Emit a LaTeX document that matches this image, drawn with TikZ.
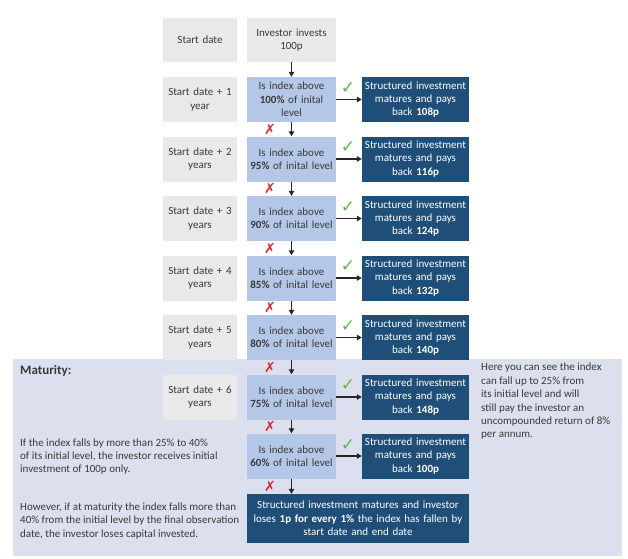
\documentclass[tikz,border=0pt]{standalone}
\usepackage{fontspec}
\setmainfont{Carlito}
\newfontfamily\symfont{DejaVu Sans}
\usetikzlibrary{arrows.meta}
\definecolor{graybox}{HTML}{E9E9E9}
\definecolor{lightbox}{HTML}{B4C7E7}
\definecolor{darkbox}{HTML}{1F4E79}
\definecolor{matbg}{HTML}{DCE0EE}
\definecolor{txtgray}{HTML}{3A3A3A}
\definecolor{okgreen}{HTML}{5DB84E}
\definecolor{nored}{HTML}{E0262F}
\tikzset{
  basefont/.style={font=\fontsize{11}{13.4}\selectfont},
  datebox/.style={basefont, fill=graybox, text=txtgray, minimum width=74pt, minimum height=45pt, text width=70pt, align=center, inner sep=0pt},
  qbox/.style={basefont, fill=lightbox, text=txtgray, minimum width=89pt, minimum height=45pt, text width=86pt, align=center, inner sep=0pt},
  resbox/.style={basefont, fill=darkbox, text=white, minimum width=107pt, minimum height=45pt, text width=105pt, align=center, inner sep=0pt},
  flow/.style={line width=1.1pt, draw=black!85, -{Triangle[length=5pt,width=5.5pt]}},
  okmark/.style={text=okgreen, font=\symfont\fontsize{17}{17}\selectfont, inner sep=0pt},
  nomark/.style={text=nored, font=\symfont\fontsize{14}{14}\selectfont, inner sep=0pt},
  note/.style={basefont, text=txtgray, align=left, anchor=west, inner sep=0pt}
}
\begin{document}
\begin{tikzpicture}[x=1pt,y=-1pt]
\useasboundingbox (0,0) rectangle (628,558);
\fill[white] (0,0) rectangle (628,558);
% maturity background
\fill[matbg] (13,359) rectangle (622,556);
\node[anchor=west, inner sep=0pt, text=txtgray, font=\fontsize{13}{15}\selectfont\bfseries] (mat) at (20,371) {Maturity:};

% start row
\node[datebox, minimum height=44pt] (d0) at (200,40) {Start date};
\node[qbox, minimum height=44pt, fill=graybox] (inv) at (291.5,40) {Investor invests\\100p};

% rows
\node[datebox] (d1) at (200,99.5) {Start date + 1\\year};
\node[qbox] (q1) at (291.5,99.5) {Is index above\\\textbf{100\%} of inital\\level};
\node[resbox] (r1) at (415.5,99.5) {Structured investment\\matures and pays\\back \textbf{108p}};

\node[datebox] (d2) at (200,159) {Start date + 2\\years};
\node[qbox] (q2) at (291.5,159) {Is index above\\\textbf{95\%} of inital level};
\node[resbox] (r2) at (415.5,159) {Structured investment\\matures and pays\\back \textbf{116p}};

\node[datebox] (d3) at (200,218.5) {Start date + 3\\years};
\node[qbox] (q3) at (291.5,218.5) {Is index above\\\textbf{90\%} of inital level};
\node[resbox] (r3) at (415.5,218.5) {Structured investment\\matures and pays\\back \textbf{124p}};

\node[datebox] (d4) at (200,278) {Start date + 4\\years};
\node[qbox] (q4) at (291.5,278) {Is index above\\\textbf{85\%} of inital level};
\node[resbox] (r4) at (415.5,278) {Structured investment\\matures and pays\\back \textbf{132p}};

\node[datebox] (d5) at (200,337.5) {Start date + 5\\years};
\node[qbox] (q5) at (291.5,337.5) {Is index above\\\textbf{80\%} of inital level};
\node[resbox] (r5) at (415.5,337.5) {Structured investment\\matures and pays\\back \textbf{140p}};

\node[datebox] (d6) at (200,397) {Start date + 6\\years};
\node[qbox] (q6) at (291.5,397) {Is index above\\\textbf{75\%} of inital level};
\node[resbox] (r6) at (415.5,397) {Structured investment\\matures and pays\\back \textbf{148p}};

\node[qbox] (q7) at (291.5,456) {Is index above\\\textbf{60\%} of inital level};
\node[resbox] (r7) at (415.5,456) {Structured investment\\matures and pays\\back \textbf{100p}};

\node[resbox, minimum width=222pt, text width=215pt, minimum height=49pt] (fin) at (358,518.5) {Structured investment matures and investor\\loses \textbf{1p for every 1\%} the index has fallen by\\start date and end date};

% arrows
\draw[flow] (inv.south) -- (q1.north);
\foreach \a/\b in {q1/q2,q2/q3,q3/q4,q4/q5,q5/q6,q6/q7} \draw[flow] (\a.south) -- (\b.north);
\draw[flow] (q7.south) -- (q7.south |- fin.north);
\foreach \i in {1,...,7} \draw[flow] (q\i.east) -- (r\i.west);

% ticks and crosses
\foreach \i/\y in {1/88,2/147.5,3/207,4/266.5,5/326,6/385.5,7/445}
  \node[okmark] (ok\i) at (348,\y) {✓};
\foreach \i/\y in {1/129,2/188.5,3/248,4/307.5,5/367,6/426.5,7/486}
  \node[nomark] (no\i) at (270,\y) {✗};

% notes
\node[note] (n1) at (20,456.5) {If the index falls by more than 25\% to 40\%\\of its initial level, the investor receives initial\\investment of 100p only.};
\node[note] (n2) at (20,521) {However, if at maturity the index falls more than\\40\% from the initial level by the final observation\\date, the investor loses capital invested.};
\node[note, anchor=north west] (n3) at (481,363) {Here you can see the index\\can fall up to 25\% from\\its initial level and will\\still pay the investor an\\uncompounded return of 8\%\\per annum.};
\end{tikzpicture}
\end{document}
